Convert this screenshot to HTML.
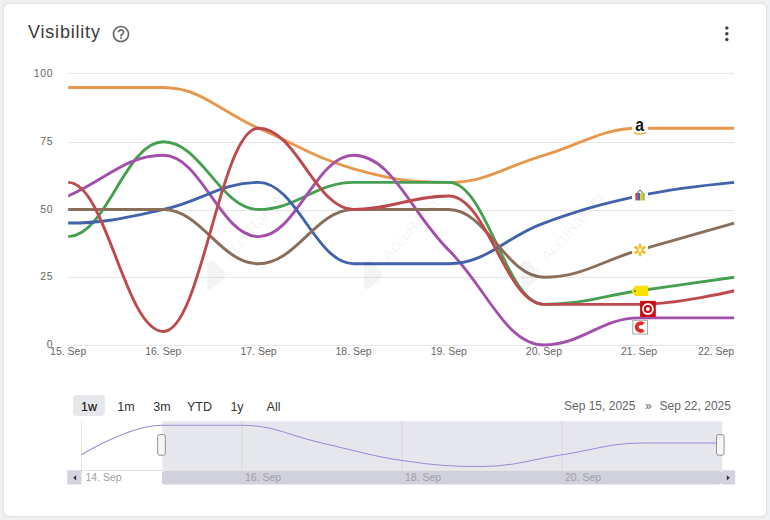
<!DOCTYPE html>
<html><head><meta charset="utf-8">
<style>
html,body{margin:0;padding:0;width:770px;height:520px;overflow:hidden;background:#eff0f2;}
body{position:relative;font-family:"Liberation Sans",sans-serif;}
.card{position:absolute;left:4px;top:4px;width:762px;height:512px;background:#fff;border-radius:5px;box-shadow:0 0 2px 0.5px rgba(0,0,0,0.07);}
.title{position:absolute;left:28px;top:23px;font-size:18px;line-height:18px;color:#3a3a3a;letter-spacing:0.8px;}
.btn{position:absolute;top:395px;height:21.2px;line-height:25px;font-size:12.5px;color:#333;text-align:center;}
.date{position:absolute;top:399px;font-size:12px;line-height:14px;color:#666;}
</style></head><body>
<div class="card"></div>
<div class="title">Visibility</div>
<svg style="position:absolute;left:110.9px;top:23.8px" width="20" height="20" viewBox="0 0 24 24"><path fill="#666" d="M11 18h2v-2h-2v2zm1-16C6.48 2 2 6.48 2 12s4.48 10 10 10 10-4.48 10-10S17.52 2 12 2zm0 18c-4.41 0-8-3.59-8-8s3.59-8 8-8 8 3.59 8 8-3.59 8-8 8zm0-14c-2.21 0-4 1.79-4 4h2c0-1.1.9-2 2-2s2 .9 2 2c0 2-3 1.75-3 5h2c0-2.25 3-2.5 3-5 0-2.21-1.79-4-4-4z"/></svg>
<svg style="position:absolute;left:720px;top:24px" width="14" height="20"><circle cx="6.8" cy="4.1" r="1.75" fill="#444"/><circle cx="6.8" cy="9.8" r="1.75" fill="#444"/><circle cx="6.8" cy="15.6" r="1.75" fill="#444"/></svg>

<svg width="770" height="520" viewBox="0 0 770 520" style="position:absolute;left:0;top:0">
<g font-family="Liberation Sans, sans-serif" font-size="10.5" fill="#666"><text x="53.1" y="76.6" text-anchor="end" letter-spacing="0.6">100</text><text x="53.1" y="144.6" text-anchor="end" letter-spacing="0.6">75</text><text x="53.1" y="212.6" text-anchor="end" letter-spacing="0.6">50</text><text x="53.1" y="279.6" text-anchor="end" letter-spacing="0.6">25</text><text x="52.5" y="347.8" text-anchor="end">0</text></g>
<line x1="68.2" x2="734.2" y1="73.4" y2="73.4" stroke="#e6e6e6" stroke-width="1"/><line x1="68.2" x2="734.2" y1="142.5" y2="142.5" stroke="#e6e6e6" stroke-width="1"/><line x1="68.2" x2="734.2" y1="210.5" y2="210.5" stroke="#e6e6e6" stroke-width="1"/><line x1="68.2" x2="734.2" y1="277.4" y2="277.4" stroke="#e6e6e6" stroke-width="1"/><line x1="68.2" x2="734.2" y1="345.4" y2="345.4" stroke="#e6e6e6" stroke-width="1"/>
<g font-family="Liberation Sans, sans-serif" font-size="10.5" fill="#666"><text x="68.2" y="354.8" text-anchor="middle">15. Sep</text><text x="163.3" y="354.8" text-anchor="middle">16. Sep</text><text x="258.5" y="354.8" text-anchor="middle">17. Sep</text><text x="353.6" y="354.8" text-anchor="middle">18. Sep</text><text x="448.8" y="354.8" text-anchor="middle">19. Sep</text><text x="543.9" y="354.8" text-anchor="middle">20. Sep</text><text x="639.1" y="354.8" text-anchor="middle">21. Sep</text><text x="734.2" y="354.8" text-anchor="end">22. Sep</text></g>
<defs><clipPath id="plotclip"><rect x="68.2" y="40" width="666.6" height="330"/></clipPath></defs>
<path d="M-26.94 155.29 C-26.94 155.29 30.14 87.55 68.20 87.55 C106.26 87.55 125.29 87.55 163.34 87.55 C201.40 87.55 220.43 111.94 258.49 128.20 C296.54 144.45 315.57 158.00 353.63 168.84 C391.69 179.68 410.71 182.39 448.77 182.39 C486.83 182.39 505.86 166.13 543.91 155.29 C581.97 144.45 601.00 128.20 639.06 128.20 C677.11 128.20 734.20 128.20 734.20 128.20" stroke="#e8984c" stroke-width="2.9" fill="none" stroke-linecap="butt" stroke-linejoin="round" clip-path="url(#plotclip)"/><path d="M-26.94 209.49 C-26.94 209.49 30.14 236.59 68.20 236.59 C106.26 236.59 125.29 141.75 163.34 141.75 C201.40 141.75 220.43 209.49 258.49 209.49 C296.54 209.49 315.57 182.39 353.63 182.39 C391.69 182.39 410.71 182.39 448.77 182.39 C486.83 182.39 505.86 304.33 543.91 304.33 C581.97 304.33 601.00 296.20 639.06 290.78 C677.11 285.36 734.20 277.24 734.20 277.24" stroke="#45a052" stroke-width="2.9" fill="none" stroke-linecap="butt" stroke-linejoin="round" clip-path="url(#plotclip)"/><path d="M-26.94 236.59 C-26.94 236.59 30.14 212.20 68.20 195.94 C106.26 179.68 125.29 155.29 163.34 155.29 C201.40 155.29 220.43 236.59 258.49 236.59 C296.54 236.59 315.57 155.29 353.63 155.29 C391.69 155.29 410.71 212.20 448.77 250.14 C486.83 288.07 505.86 344.98 543.91 344.98 C581.97 344.98 601.00 317.88 639.06 317.88 C677.11 317.88 734.20 317.88 734.20 317.88" stroke="#a350aa" stroke-width="2.9" fill="none" stroke-linecap="butt" stroke-linejoin="round" clip-path="url(#plotclip)"/><path d="M-26.94 209.49 C-26.94 209.49 30.14 223.04 68.20 223.04 C106.26 223.04 125.29 217.62 163.34 209.49 C201.40 201.36 220.43 182.39 258.49 182.39 C296.54 182.39 315.57 263.69 353.63 263.69 C391.69 263.69 410.71 263.69 448.77 263.69 C486.83 263.69 505.86 236.59 543.91 223.04 C581.97 209.49 601.00 204.07 639.06 195.94 C677.11 187.81 734.20 182.39 734.20 182.39" stroke="#4262ab" stroke-width="2.9" fill="none" stroke-linecap="butt" stroke-linejoin="round" clip-path="url(#plotclip)"/><path d="M-26.94 209.49 C-26.94 209.49 30.14 209.49 68.20 209.49 C106.26 209.49 125.29 209.49 163.34 209.49 C201.40 209.49 220.43 263.69 258.49 263.69 C296.54 263.69 315.57 209.49 353.63 209.49 C391.69 209.49 410.71 209.49 448.77 209.49 C486.83 209.49 505.86 277.24 543.91 277.24 C581.97 277.24 601.00 260.98 639.06 250.14 C677.11 239.30 734.20 223.04 734.20 223.04" stroke="#8a6e5a" stroke-width="2.9" fill="none" stroke-linecap="butt" stroke-linejoin="round" clip-path="url(#plotclip)"/><path d="M-26.94 263.69 C-26.94 263.69 30.14 182.39 68.20 182.39 C106.26 182.39 125.29 331.43 163.34 331.43 C201.40 331.43 220.43 128.20 258.49 128.20 C296.54 128.20 315.57 209.49 353.63 209.49 C391.69 209.49 410.71 195.94 448.77 195.94 C486.83 195.94 505.86 304.33 543.91 304.33 C581.97 304.33 601.00 304.33 639.06 304.33 C677.11 304.33 734.20 290.78 734.20 290.78" stroke="#bd4a4c" stroke-width="2.9" fill="none" stroke-linecap="butt" stroke-linejoin="round" clip-path="url(#plotclip)"/>

<g>
<circle cx="640" cy="127.8" r="8" fill="#fff"/>
<text transform="translate(639.7 131.2) scale(1.05 1.25)" text-anchor="middle" font-family="Liberation Sans, sans-serif" font-weight="bold" font-size="15" fill="#111">a</text>
<path d="M633.6 132.6 Q640 135.6 646.4 132.4" stroke="#f0a830" stroke-width="1.2" fill="none"/>
<rect x="632" y="187.8" width="16" height="16" fill="#fff"/>
<path d="M637.6 193 Q640 187.5 642.4 193" stroke="#555" stroke-width="1" fill="none"/>
<rect x="635.4" y="193" width="2.4" height="7.4" fill="#d0393a"/>
<rect x="637.8" y="193" width="2.3" height="7.4" fill="#2b6bc9"/>
<rect x="640.1" y="193" width="2.3" height="7.4" fill="#f2c318"/>
<rect x="642.4" y="193" width="2.3" height="7.4" fill="#8cbf3a"/>
<rect x="632.2" y="242.2" width="15.6" height="15.6" fill="#fff"/>
<g transform="translate(640 250)" fill="#f5bd1f">
<ellipse cx="0" cy="-4" rx="1.4" ry="2.7"/><ellipse cx="0" cy="4" rx="1.4" ry="2.7"/>
<ellipse cx="0" cy="-4" rx="1.4" ry="2.7" transform="rotate(60)"/><ellipse cx="0" cy="4" rx="1.4" ry="2.7" transform="rotate(60)"/>
<ellipse cx="0" cy="-4" rx="1.4" ry="2.7" transform="rotate(-60)"/><ellipse cx="0" cy="4" rx="1.4" ry="2.7" transform="rotate(-60)"/>
</g>
<path d="M635.2 285.8 H647.6 Q648.2 285.8 648.2 286.4 V295.4 Q648.2 296 647.6 296 H635.2 L632.1 291.9 V289.9 Z" fill="#f6e100"/>
<circle cx="635" cy="290.9" r="0.8" fill="#333"/>
<rect x="640.1" y="300.9" width="15.7" height="16.1" fill="#cc0a14"/>
<circle cx="647.9" cy="309" r="5.9" fill="#fff"/>
<circle cx="647.9" cy="309" r="4.1" fill="#cc0a14"/>
<circle cx="647.9" cy="309" r="2" fill="#fff"/>
<rect x="632.8" y="320.2" width="14.8" height="13.8" fill="#fff" stroke="#9a9a9a" stroke-width="0.9"/>
<path d="M643.3 324.2 A3.9 3.9 0 1 0 643.3 329.8" stroke="#e02b2b" stroke-width="3.9" fill="none"/>
</g>
<g font-family="Liberation Sans, sans-serif" font-size="16" fill="#000" fill-opacity="0.06">
<text transform="translate(230 262) rotate(-49)">AccuRanker</text>
<text transform="translate(389 262) rotate(-49)">AccuRanker</text>
<text transform="translate(548 263) rotate(-49)">AccuRanker</text>
</g>
<g fill="#000" fill-opacity="0.045"><path transform="translate(0 0)" d="M207 266 Q207 258 214 261 L223 270 Q227 275 223 279 L213 288 Q207 292 207 284 Z"/><path transform="translate(157 0)" d="M207 266 Q207 258 214 261 L223 270 Q227 275 223 279 L213 288 Q207 292 207 284 Z"/><path transform="translate(314 0)" d="M207 266 Q207 258 214 261 L223 270 Q227 275 223 279 L213 288 Q207 292 207 284 Z"/></g>

<!-- navigator -->
<rect x="162.4" y="421.2" width="559.8" height="48.6" fill="#e6e7ec"/>
<line x1="81.5" x2="81.5" y1="421.2" y2="471" stroke="#e6e6e6"/>
<line x1="241.7" x2="241.7" y1="421.2" y2="471" stroke="#d6d6db"/>
<line x1="401.9" x2="401.9" y1="421.2" y2="471" stroke="#d6d6db"/>
<line x1="562.1" x2="562.1" y1="421.2" y2="471" stroke="#d6d6db"/>
<path d="M81.50 454.70 C81.50 454.70 129.56 425.20 161.60 425.20 C193.64 425.20 209.66 425.20 241.70 425.20 C273.74 425.20 289.76 435.82 321.80 442.90 C353.84 449.98 369.86 455.88 401.90 460.60 C433.94 465.32 449.96 466.50 482.00 466.50 C514.04 466.50 530.06 459.42 562.10 454.70 C594.14 449.98 610.16 442.90 642.20 442.90 C674.24 442.90 722.30 442.90 722.30 442.90" stroke="#9a8bd6" stroke-width="1.05" fill="none"/>
<line x1="81.5" x2="722" y1="470.5" y2="470.5" stroke="#e3e3e3"/>
<rect x="67.2" y="470.2" width="14.4" height="14.2" rx="1.2" fill="#d3d4df"/>
<rect x="721.6" y="470.2" width="13.6" height="14.2" rx="1.2" fill="#d3d4df"/>
<rect x="162" y="471" width="560" height="13.6" rx="3" fill="#d0d1dc"/>
<path d="M76.2 475.2 L73.2 477.85 L76.2 480.5Z" fill="#333"/>
<path d="M726.8 475.2 L729.8 477.85 L726.8 480.5Z" fill="#333"/>
<g font-family="Liberation Sans, sans-serif" font-size="10.5" fill="#a0a0a0">
<text x="85.5" y="481.2">14. Sep</text>
<text x="245" y="481.2">16. Sep</text>
<text x="405" y="481.2">18. Sep</text>
<text x="565" y="481.2">20. Sep</text>
</g>
<rect x="157.7" y="434.6" width="7.6" height="20.6" rx="2" fill="#f6f6f6" stroke="#777" stroke-width="0.8"/>
<rect x="716.5" y="434.6" width="7.6" height="20.6" rx="2" fill="#f6f6f6" stroke="#777" stroke-width="0.8"/>
</svg>

<div class="btn" style="left:73px;width:32px;background:#e6e7ea;border-radius:4px;color:#111;-webkit-text-stroke:0.15px #111;">1w</div>
<div class="btn" style="left:112px;width:28px;">1m</div>
<div class="btn" style="left:148px;width:28px;">3m</div>
<div class="btn" style="left:184px;width:31px;">YTD</div>
<div class="btn" style="left:223px;width:28px;">1y</div>
<div class="btn" style="left:259px;width:29px;">All</div>
<div class="date" style="left:564px;">Sep 15, 2025</div>
<div class="date" style="left:645px;">»</div>
<div class="date" style="left:659.5px;">Sep 22, 2025</div>
</body></html>
